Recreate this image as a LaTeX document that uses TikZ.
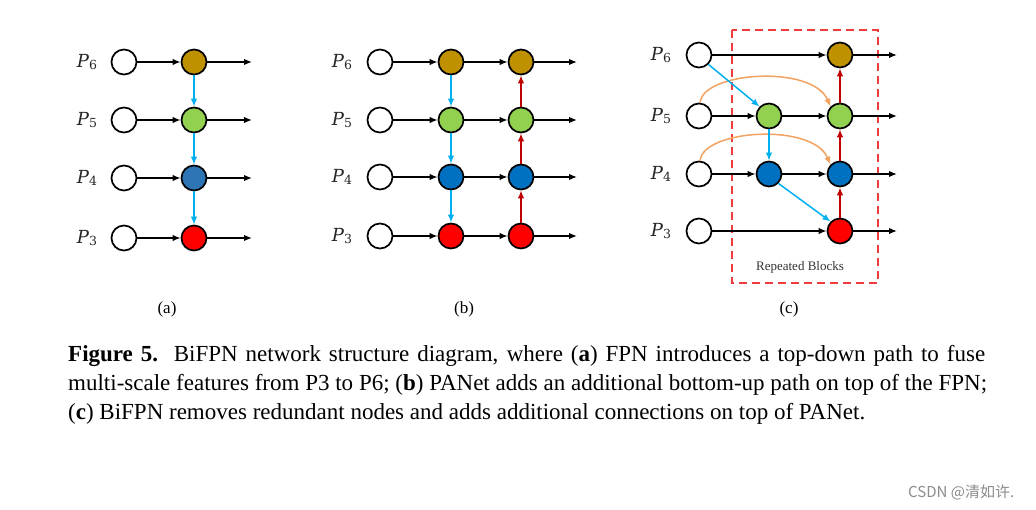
\documentclass[tikz,border=0pt]{standalone}
\usepackage{fontspec}
\setmainfont{Liberation Serif}
\newfontfamily\cjkfont{Noto Sans CJK SC}
\newfontfamily\pfont{DejaVu Serif}
\usetikzlibrary{arrows.meta}
\definecolor{cbrown}{HTML}{BF9000}
\definecolor{cgreen}{HTML}{92D050}
\definecolor{cbluea}{HTML}{2E75B6}
\definecolor{cblue}{HTML}{0070C0}
\definecolor{cred}{HTML}{FF0000}
\definecolor{ccyan}{HTML}{00B0F0}
\definecolor{cdred}{HTML}{C00000}
\definecolor{corange}{HTML}{F2A261}
\definecolor{cbox}{HTML}{F03C3C}
\newcommand{\plab}[1]{{\pfont\fontsize{18}{20}\selectfont\itshape P}\raisebox{-0.28em}{\pfont\fontsize{12.5}{14}\selectfont #1}}
\tikzset{
  nd/.style={circle, draw=black, line width=1.7pt, minimum size=25pt, inner sep=0pt},
  inode/.style={nd, fill=white},
  lbl/.style={anchor=center, inner sep=0pt, text=black!85},
  sublbl/.style={font=\fontsize{17}{20}\selectfont},
  arr/.style={line width=1.5pt, -{Latex[length=8pt,width=6.5pt]}},
  blk/.style={arr, draw=black},
  cy/.style={arr, draw=ccyan},
  dr/.style={arr, draw=cdred},
  og/.style={arr, draw=corange},
  captext/.style={font=\fontsize{23}{29}\selectfont, anchor=base west, inner sep=0pt}
}
\begin{document}
\begin{tikzpicture}[x=1pt,y=-1pt]
\useasboundingbox (0,0) rectangle (1036,510);
\fill[white] (0,0) rectangle (1036,510);
% ---------- panel (a)
\foreach \r/\y in {6/62,5/120,4/178,3/238}{
  \node[lbl] (la\r) at (87,\y) {\plab{\r}};
  \node[inode] (ai\r) at (124,\y) {};
  \coordinate (ae\r) at (252,\y);
}
\node[nd, fill=cbrown] (af6) at (194,62) {};
\node[nd, fill=cgreen] (af5) at (194,120) {};
\node[nd, fill=cbluea] (af4) at (194,178) {};
\node[nd, fill=cred] (af3) at (194,238) {};
\foreach \r in {6,5,4,3}{
  \draw[blk] (ai\r) -- (af\r);
  \draw[blk] (af\r) -- (ae\r);
}
\draw[cy] (af6) -- (af5);
\draw[cy] (af5) -- (af4);
\draw[cy] (af4) -- (af3);
\node[sublbl] (capa) at (167,309) {(a)};
% ---------- panel (b)
\foreach \r/\y in {6/62,5/120,4/177,3/236}{
  \node[lbl] (lb\r) at (342,\y) {\plab{\r}};
  \node[inode] (bi\r) at (380,\y) {};
  \coordinate (be\r) at (577,\y);
}
\node[nd, fill=cbrown] (bf6) at (451,62) {};
\node[nd, fill=cgreen] (bf5) at (451,120) {};
\node[nd, fill=cblue] (bf4) at (451,177) {};
\node[nd, fill=cred] (bf3) at (451,236) {};
\node[nd, fill=cbrown] (bg6) at (521,62) {};
\node[nd, fill=cgreen] (bg5) at (521,120) {};
\node[nd, fill=cblue] (bg4) at (521,177) {};
\node[nd, fill=cred] (bg3) at (521,236) {};
\foreach \r in {6,5,4,3}{
  \draw[blk] (bi\r) -- (bf\r);
  \draw[blk] (bf\r) -- (bg\r);
  \draw[blk] (bg\r) -- (be\r);
}
\draw[cy] (bf6) -- (bf5);
\draw[cy] (bf5) -- (bf4);
\draw[cy] (bf4) -- (bf3);
\draw[dr] (bg3) -- (bg4);
\draw[dr] (bg4) -- (bg5);
\draw[dr] (bg5) -- (bg6);
\node[sublbl] (capb) at (464,309) {(b)};
% ---------- panel (c)
\draw[cbox, line width=1.8pt, dash pattern=on 8pt off 5pt] (732,30) rectangle (878,283);
\node[font=\fontsize{13}{15}\selectfont, text=black!80] (rep) at (800,267) {Repeated Blocks};
\foreach \r/\y in {6/55,5/116,4/174,3/231}{
  \node[lbl] (lc\r) at (661,\y) {\plab{\r}};
  \node[inode] (ci\r) at (699,\y) {};
  \coordinate (ce\r) at (897,\y);
}
\node[nd, fill=cgreen] (cm5) at (769,116) {};
\node[nd, fill=cblue] (cm4) at (769,174) {};
\node[nd, fill=cbrown] (co6) at (840,55) {};
\node[nd, fill=cgreen] (co5) at (840,116) {};
\node[nd, fill=cblue] (co4) at (840,174) {};
\node[nd, fill=cred] (co3) at (840,231) {};
\draw[blk] (ci6) -- (co6);
\draw[blk] (ci5) -- (cm5);
\draw[blk] (cm5) -- (co5);
\draw[blk] (ci4) -- (cm4);
\draw[blk] (cm4) -- (co4);
\draw[blk] (ci3) -- (co3);
\foreach \r in {6,5,4,3}{ \draw[blk] (co\r) -- (ce\r); }
\draw[og] (ci5.85) .. controls (702,72) and (812,64) .. (co5.135);
\draw[og] (ci4.85) .. controls (702,130) and (812,122) .. (co4.135);
\draw[cy] (ci6.south east) -- (cm5.north west);
\draw[cy] (cm5) -- (cm4);
\draw[cy] (cm4.south east) -- (co3.north west);
\draw[dr] (co3) -- (co4);
\draw[dr] (co4) -- (co5);
\draw[dr] (co5) -- (co6);
\node[sublbl] (capc) at (789,309) {(c)};
% ---------- caption
\node[captext] (c1) at (68,362) {\makebox[917pt][s]{\textbf{Figure 5.}\ \ BiFPN network structure diagram, where (\textbf{a}) FPN introduces a top-down path to fuse}};
\node[captext] (c2) at (68,391) {\makebox[919pt][s]{multi-scale features from P3 to P6; (\textbf{b}) PANet adds an additional bottom-up path on top of the FPN;}};
\node[captext] (c3) at (68,420) {(\textbf{c}) BiFPN removes redundant nodes and adds additional connections on top of PANet.};
% ---------- watermark
\node[font=\cjkfont\fontsize{15}{17}\selectfont, text=black!45, anchor=west, inner sep=0pt] (wm) at (908,492) {CSDN @清如许.};
\end{tikzpicture}
\end{document}
